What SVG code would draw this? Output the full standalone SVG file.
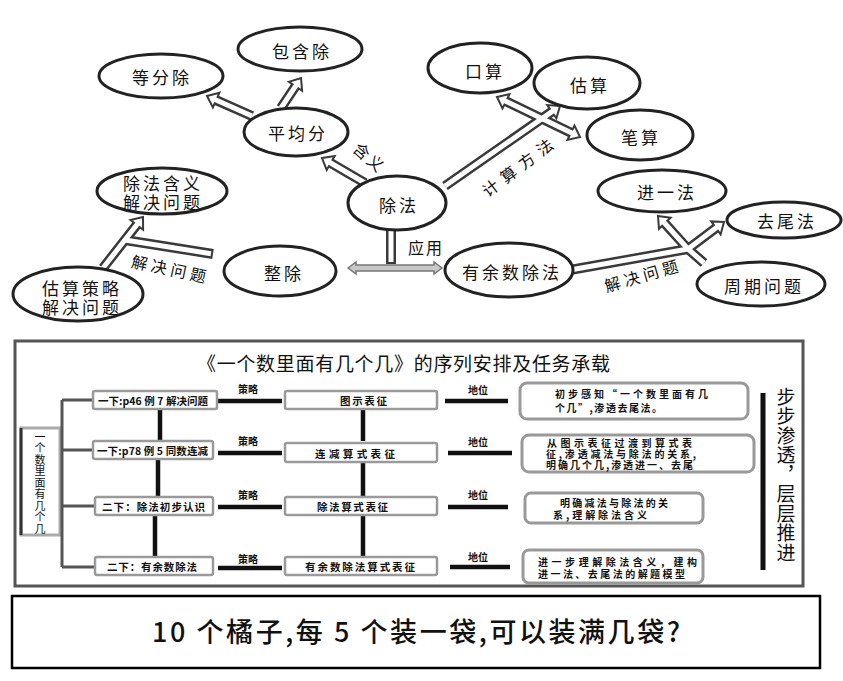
<svg xmlns="http://www.w3.org/2000/svg" width="843" height="681" viewBox="0 0 843 681">
<style>
text{font-family:"Noto Sans CJK SC","Noto Sans",sans-serif;fill:#111}
.nd ellipse{fill:#fff;stroke:#222;stroke-width:3}
.nt{font-size:17px;text-anchor:middle;dominant-baseline:central;letter-spacing:3px}
.lb{font-size:16px;text-anchor:middle;dominant-baseline:central}
.o{fill:none;stroke:#3a3a3a;stroke-width:10}
.i{fill:none;stroke:#fff;stroke-width:5}
.ah{fill:#fff;stroke:#3a3a3a;stroke-width:2}
.b1{fill:#fff;stroke:#9a9a9a;stroke-width:2.5}
.b3{fill:#fff;stroke:#999;stroke-width:3}
.t1{font-size:10.5px;font-weight:700;dominant-baseline:central}
.t3{font-size:10px;font-weight:700}
.k{stroke:#111;stroke-width:4.5;fill:none}
.g{stroke:#555;stroke-width:3;fill:none}
.sm{font-size:10px;font-weight:700;text-anchor:middle}
.vert{writing-mode:vertical-rl;text-orientation:upright}
</style>

<g id="connectors">
  <path class="o" d="M252,116 L216.1,100.1 M281,108 L295.5,86.3 M365,183 L330.7,163 M103,268 L136.8,224.9 M213,254 L125,240 M445,186 L551.8,111.7 M506,101.3 L571,132.7 M570,270 L688,249 M688,249 L664.8,223.3 M688,249 L715.9,227.9 M688,249 L704,263"/>
  <path class="o" stroke-width="13" d="M391,222 L391,264"/>
  <polygon class="ah" points="207,96 219.4,92.8 212.9,107.4"/>
  <polygon class="ah" points="301,78 302.1,90.8 288.9,81.9"/>
  <polygon class="ah" points="322,158 334.7,156.1 326.7,169.9"/>
  <polygon class="ah" points="143,217 143.1,229.8 130.5,220"/>
  <polygon class="ah" points="560,106 556.4,118.3 547.2,105.1"/>
  <polygon class="ah" points="580,137 567.5,139.9 574.5,125.5"/>
  <polygon class="ah" points="497,97 502.5,108.5 509.5,94.1"/>
  <polygon class="ah" points="658,216 670.6,217.8 659,228.8"/>
  <polygon class="ah" points="724,222 720.6,234.4 711.2,221.4"/>
  <path class="i" d="M252,116 L214.3,99.3 M281,108 L296.6,84.6 M365,183 L329,162 M103,268 L138,223.3 M211,253.7 L125,240 M445,186 L553.4,110.6 M504.2,100.4 L572.8,133.6 M570,270 L688,249 M688,249 L663.4,221.8 M688,249 L717.5,226.7 M688,249 L704,263"/>
  <path class="i" stroke-width="8" d="M391,222 L391,262"/>
  <polygon fill="#c8c8c8" stroke="#777" stroke-width="1.5" points="348,268 356,262 356,265 434,265 434,262 442,268 434,274 434,271 356,271 356,274"/>
</g>

<g id="n-dengfenchu" class="nd"><ellipse cx="161" cy="76" rx="62" ry="22"/><text class="nt" x="162" y="76">等分除</text></g>
<g id="n-baohanchu" class="nd"><ellipse cx="300" cy="49" rx="62" ry="22"/><text class="nt" x="302" y="50">包含除</text></g>
<g id="n-pingjunfen" class="nd"><ellipse cx="296" cy="132" rx="52" ry="24"/><text class="nt" x="298" y="132">平均分</text></g>
<g id="n-hanyi" class="nd"><ellipse cx="162" cy="191" rx="65" ry="23"/><text class="nt"><tspan x="163" y="182">除法含义</tspan><tspan x="163" y="201">解决问题</tspan></text></g>
<g id="n-gusuancelue" class="nd"><ellipse cx="78" cy="294" rx="65" ry="27"/><text class="nt"><tspan x="82" y="287">估算策略</tspan><tspan x="82" y="306">解决问题</tspan></text></g>
<g id="n-zhengchu" class="nd"><ellipse cx="280" cy="271" rx="56" ry="25"/><text class="nt" x="284" y="272">整除</text></g>
<g id="n-chufa" class="nd"><ellipse cx="397" cy="203" rx="49" ry="27"/><text class="nt" x="399" y="204">除法</text></g>
<g id="n-youyushu" class="nd"><ellipse cx="509" cy="270" rx="64" ry="27"/><text class="nt" x="512" y="271">有余数除法</text></g>
<g id="n-kousuan" class="nd"><ellipse cx="480" cy="68" rx="52" ry="25"/><text class="nt" x="485" y="70">口算</text></g>
<g id="n-gusuan" class="nd"><ellipse cx="587" cy="83" rx="53" ry="26"/><text class="nt" x="590" y="84">估算</text></g>
<g id="n-bisuan" class="nd"><ellipse cx="640" cy="135" rx="53" ry="25"/><text class="nt" x="641" y="136">笔算</text></g>
<g id="n-jinyifa" class="nd"><ellipse cx="662" cy="191" rx="64" ry="21"/><text class="nt" x="667" y="191">进一法</text></g>
<g id="n-quweifa" class="nd"><ellipse cx="784" cy="220" rx="57" ry="18"/><text class="nt" x="787" y="220">去尾法</text></g>
<g id="n-zhouqi" class="nd"><ellipse cx="761" cy="284" rx="64" ry="22"/><text class="nt" x="764" y="285">周期问题</text></g>

<g id="labels">
  <text class="lb" transform="translate(370,157) rotate(41)" letter-spacing="2">含义</text>
  <text class="lb" transform="translate(517,167) rotate(-37)" textLength="84">计算方法</text>
  <text class="lb" x="426" y="247" letter-spacing="2">应用</text>
  <text class="lb" transform="translate(169,268) rotate(12)" textLength="76">解决问题</text>
  <text class="lb" transform="translate(641,275) rotate(-16)" textLength="76">解决问题</text>
</g>

<g id="table">
  <rect x="15" y="341" width="788" height="245" fill="none" stroke="#555" stroke-width="3"/>
  <text x="197" y="362" font-size="19" dominant-baseline="central" textLength="413">《一个数里面有几个几》的序列安排及任务承载</text>
  <g id="t-left">
    <rect x="21" y="428" width="39" height="107" fill="#fff" stroke="#aaa" stroke-width="3"/>
    <line x1="21" y1="428" x2="21" y2="535" stroke="#333" stroke-width="3"/>
    <text class="vert" x="40" y="431" font-size="11" letter-spacing="0.5">一个数里面有几个几</text>
  </g>
  <path class="g" d="M62,400 V567 M62,400 H93 M62,450 H93 M62,506 H95 M62,567 H95"/>
  <g id="t-links">
    <path class="k" d="M218,401 H282 M218,453 H282 M218,507 H282 M218,568 H282"/>
    <path class="k" d="M445,401 H508 M448,453 H512 M448,507 H508 M450,567 H510"/>
    <path class="k" stroke-width="5" d="M160,409 V441 M158,459 V497 M155,515 V557 M363,409 V441 M363,459 V497 M363,515 V557"/>
    <text class="sm" x="248" y="393">策略</text><text class="sm" x="248" y="445">策略</text>
    <text class="sm" x="248" y="499">策略</text><text class="sm" x="248" y="563">策略</text>
    <text class="sm" x="478" y="394">地位</text><text class="sm" x="478" y="446">地位</text>
    <text class="sm" x="478" y="499">地位</text><text class="sm" x="478" y="561">地位</text>
  </g>
  <g id="t-c1r1"><rect class="b1" x="93" y="391" width="124" height="18" rx="2"/><text class="t1" x="98" y="400" textLength="110">一下:p46 例 7 解决问题</text></g>
  <g id="t-c1r2"><rect class="b1" x="93" y="441" width="120" height="18" rx="2"/><text class="t1" x="97" y="450" textLength="111">一下:p78 例 5 同数连减</text></g>
  <g id="t-c1r3"><rect class="b1" x="95" y="497" width="118" height="18" rx="2"/><text class="t1" x="102" y="506" textLength="103">二下：除法初步认识</text></g>
  <g id="t-c1r4"><rect class="b1" x="95" y="557" width="118" height="18" rx="2"/><text class="t1" x="107" y="566" textLength="90">二下：有余数除法</text></g>
  <g id="t-c2r1"><rect class="b1" x="285" y="391" width="152" height="18" rx="2"/><text class="t1" x="340" y="400" textLength="47">图示表征</text></g>
  <g id="t-c2r2"><rect class="b1" x="285" y="443" width="152" height="19" rx="2"/><text class="t1" x="315" y="453" textLength="80">连减算式表征</text></g>
  <g id="t-c2r3"><rect class="b1" x="285" y="497" width="152" height="18" rx="2"/><text class="t1" x="317" y="506" textLength="71">除法算式表征</text></g>
  <g id="t-c2r4"><rect class="b1" x="285" y="557" width="152" height="18" rx="2"/><text class="t1" x="305" y="566" textLength="110">有余数除法算式表征</text></g>
  <g id="t-c3r1"><rect class="b3" x="520" y="383" width="228" height="36" rx="7"/>
    <text class="t3"><tspan x="555" y="398" textLength="153">初步感知“一个数里面有几</tspan><tspan x="555" y="412" textLength="107">个几”,渗透去尾法。</tspan></text></g>
  <g id="t-c3r2"><rect class="b3" x="522" y="435" width="232" height="37" rx="7"/>
    <text class="t3"><tspan x="547" y="447" textLength="145">从图示表征过渡到算式表</tspan><tspan x="546" y="458" textLength="150">征,渗透减法与除法的关系,</tspan><tspan x="546" y="469" textLength="147">明确几个几,渗透进一、去尾</tspan></text></g>
  <g id="t-c3r3"><rect class="b3" x="525" y="493" width="178" height="30" rx="6"/>
    <text class="t3"><tspan x="560" y="507" textLength="108">明确减法与除法的关</tspan><tspan x="553" y="519" textLength="94">系,理解除法含义</tspan></text></g>
  <g id="t-c3r4"><rect class="b3" x="523" y="550" width="180" height="33" rx="6"/>
    <text class="t3"><tspan x="538" y="566" textLength="159">进一步理解除法含义，建构</tspan><tspan x="538" y="578" textLength="147">进一法、去尾法的解题模型</tspan></text></g>
  <g id="t-right">
    <line x1="763" y1="393" x2="763" y2="570" stroke="#111" stroke-width="5"/>
    <text class="vert" x="786" y="387" font-size="19" letter-spacing="0.5">步步渗透，层层推进</text>
  </g>
</g>

<g id="question">
  <rect x="12" y="596" width="808" height="72" fill="#fff" stroke="#000" stroke-width="2.5"/>
  <text x="152" y="642" font-size="27" font-weight="500" textLength="528">10 个橘子,每 5 个装一袋,可以装满几袋?</text>
</g>
</svg>
